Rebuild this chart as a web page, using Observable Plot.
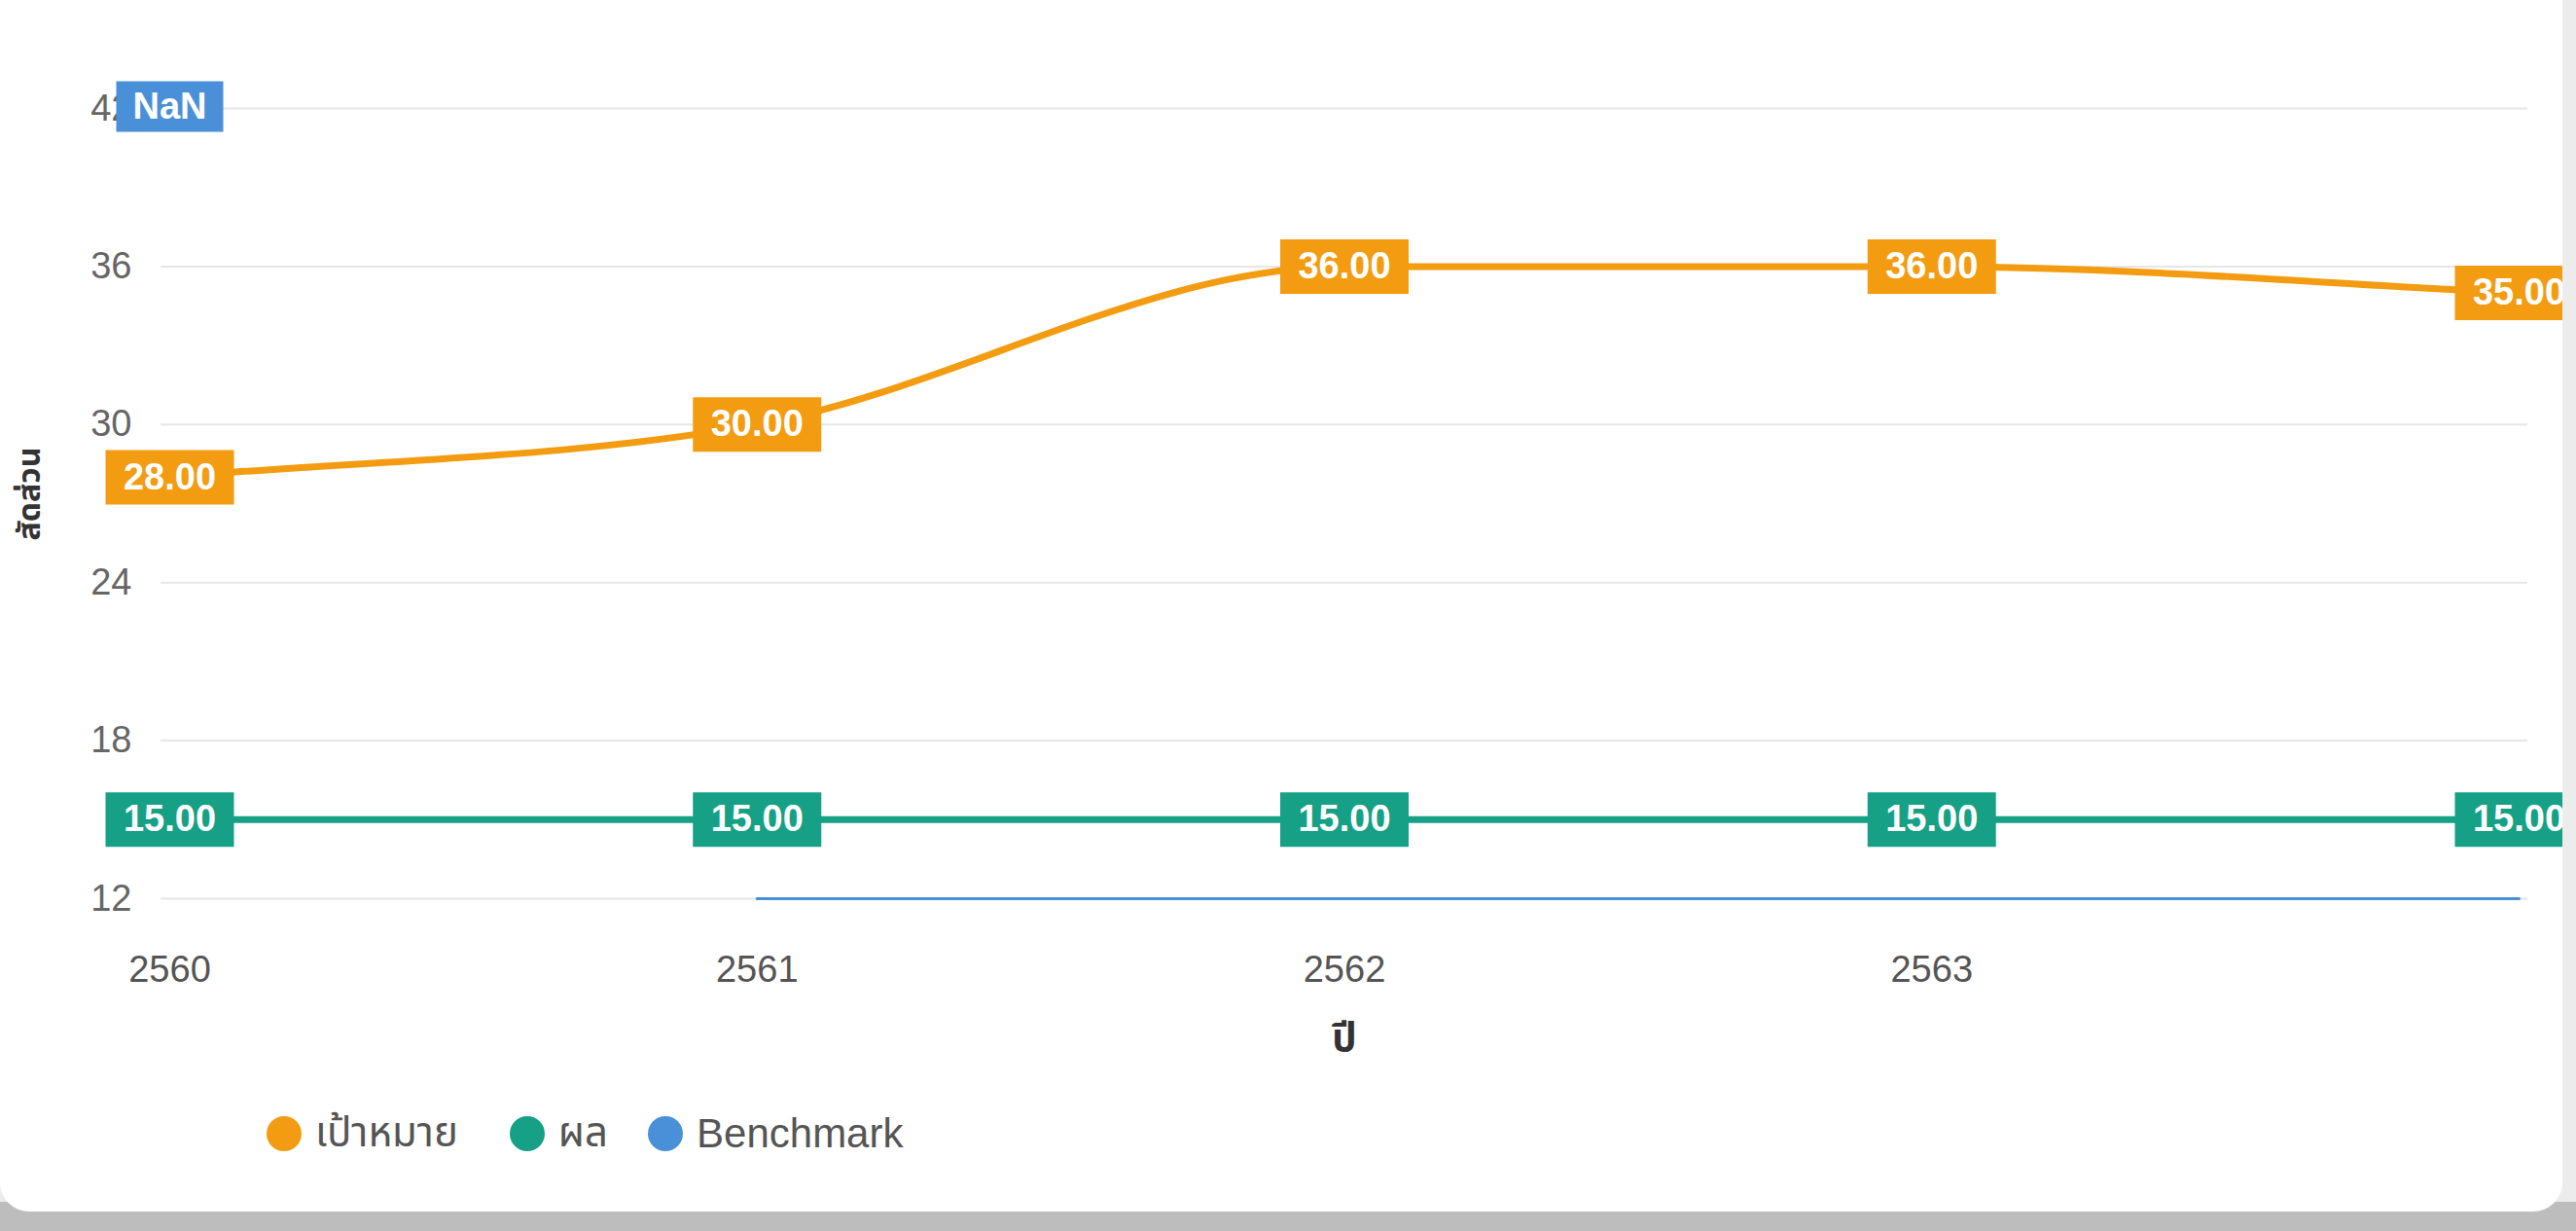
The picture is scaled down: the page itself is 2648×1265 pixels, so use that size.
<!DOCTYPE html>
<html>
<head>
<meta charset="utf-8">
<script src="https://cdn.jsdelivr.net/npm/d3@7"></script>
<script src="https://cdn.jsdelivr.net/npm/@observablehq/plot@0.6"></script>
<style>
  html, body { margin: 0; padding: 0; }
  body { width: 2648px; height: 1265px; overflow: hidden; position: relative; background: #ececec; }
  #bottomband { position: absolute; left: 0; top: 1235px; width: 2648px; height: 30px; background: #bdbdbd; }
  #card { position: absolute; left: 0; top: 0; width: 2634px; height: 1245px; background: #fff;
          border-radius: 0 0 30px 30px; overflow: hidden; }
  #chart svg { display: block; }
  #legend { position: absolute; left: 274px; top: 1133px; display: flex; align-items: center;
            font-family: "Liberation Sans", "Noto Sans Thai", "Noto Sans", "DejaVu Sans", sans-serif;
            font-size: 42px; color: #555; }
  .item { display: flex; align-items: center; }
  .item:nth-child(1) { margin-right: 53px; }
  .item:nth-child(2) { margin-right: 41px; }
  .sw { width: 36px; height: 36px; border-radius: 50%; margin-right: 14px; }
</style>
</head>
<body>
<div id="bottomband"></div>
<div id="card">
  <div id="chart"></div>
  <div id="legend"></div>
</div>
<script>
// ---- data ----
const years = [2560, 2561, 2562, 2563, 2564];
const target = [28, 30, 36, 36, 35];        // เป้าหมาย
const result = [15, 15, 15, 15, 15];        // ผล
const benchmark = [NaN, 12, 12, 12, 12];    // Benchmark
const seriesNames = ["เป้าหมาย", "ผล", "Benchmark"];
const seriesColors = ["#F39C12", "#16A085", "#4A90D9"];
const yTicks = [12, 18, 24, 30, 36, 42];
const xTicks = [2560, 2561, 2562, 2563];
const xTitle = "ปี";
const yTitle = "สัดส่วน";

const FONT = '"Liberation Sans", "Noto Sans Thai", "Noto Sans", "DejaVu Sans", sans-serif';

const rows = [];
[target, result, benchmark].forEach((vals, i) => {
  years.forEach((yr, j) => rows.push({series: seriesNames[i], year: yr, value: vals[j]}));
});
const labelRows = rows.filter(d => d.series !== "Benchmark");
const nanRows = rows.filter(d => d.series === "Benchmark" && isNaN(d.value))
  .map(d => ({...d, pos: d3.max(yTicks)}));

const colorOf = s => seriesColors[seriesNames.indexOf(s)];
const rectSymbol = (w, h) => ({
  draw(ctx) {
    ctx.moveTo(-w / 2, -h / 2); ctx.lineTo(w / 2, -h / 2);
    ctx.lineTo(w / 2, h / 2); ctx.lineTo(-w / 2, h / 2); ctx.closePath();
  }
});

// Monotone cubic curve with secant end tangents (like Chart.js "monotone")
function monotoneSecant(context) {
  let xs = [], ys = [];
  return {
    areaStart() {}, areaEnd() {},
    lineStart() { xs = []; ys = []; },
    point(x, y) { xs.push(+x); ys.push(+y); },
    lineEnd() {
      const n = xs.length;
      if (!n) return;
      context.moveTo(xs[0], ys[0]);
      if (n === 1) return;
      const d = [], m = [];
      for (let i = 0; i < n - 1; i++) d.push((ys[i + 1] - ys[i]) / (xs[i + 1] - xs[i]));
      m[0] = d[0]; m[n - 1] = d[n - 2];
      for (let i = 1; i < n - 1; i++) m[i] = (d[i - 1] * d[i] <= 0) ? 0 : (d[i - 1] + d[i]) / 2;
      for (let i = 0; i < n - 1; i++) {
        if (d[i] === 0) { m[i] = 0; m[i + 1] = 0; continue; }
        const a = m[i] / d[i], b = m[i + 1] / d[i], s = a * a + b * b;
        if (s > 9) { const t = 3 / Math.sqrt(s); m[i] = t * a * d[i]; m[i + 1] = t * b * d[i]; }
      }
      for (let i = 0; i < n - 1; i++) {
        const h = (xs[i + 1] - xs[i]) / 3;
        context.bezierCurveTo(xs[i] + h, ys[i] + m[i] * h, xs[i + 1] - h, ys[i + 1] - m[i + 1] * h, xs[i + 1], ys[i + 1]);
      }
    }
  };
}

const chart = Plot.plot({
  width: 2634,
  height: 1110,
  marginTop: 111,
  marginBottom: 187,
  marginLeft: 165,
  marginRight: 36,
  style: {fontFamily: FONT, background: "transparent", overflow: "hidden"},
  x: {domain: [2560, 2564], insetLeft: 9, insetRight: 9, label: null},
  y: {domain: [12, 42], label: null},
  marks: [
    Plot.ruleY(yTicks, {stroke: "#e6e6e6", strokeWidth: 2}),
    Plot.axisY({ticks: yTicks, tickSize: 0, tickPadding: 30, fontSize: 38, fill: "#666", label: null}),
    Plot.axisX({ticks: xTicks, tickSize: 0, tickPadding: 59, fontSize: 38, fill: "#555",
                tickFormat: d => String(d), label: null}),
    Plot.lineY(rows.filter(d => !isNaN(d.value)), {
      x: "year", y: "value", z: "series", stroke: d => colorOf(d.series),
      strokeWidth: d => d.series === "Benchmark" ? 3 : 7, curve: monotoneSecant
    }),
    Plot.dot(labelRows, {x: "year", y: "value", symbol: rectSymbol(132, 56), r: 10,
      fill: d => colorOf(d.series), stroke: "none"}),
    Plot.text(labelRows, {x: "year", y: "value", text: d => d3.format(".2f")(d.value),
      fill: "white", fontWeight: "bold", fontSize: 38, fontFamily: FONT}),
    Plot.dot(nanRows, {x: "year", y: "pos", dy: -2, symbol: rectSymbol(110, 52), r: 10,
      fill: d => colorOf(d.series), stroke: "none"}),
    Plot.text(nanRows, {x: "year", y: "pos", dy: -2, text: d => String(d.value),
      fill: "white", fontWeight: "bold", fontSize: 38, fontFamily: FONT}),
    Plot.text([xTitle], {frameAnchor: "bottom", dy: 144, text: d => d, fontWeight: "bold",
      fontSize: 40, fill: "#333", lineAnchor: "middle", textAnchor: "middle"}),
    Plot.text([yTitle], {frameAnchor: "left", dx: -135, dy: -10, rotate: -90, text: d => d,
      textAnchor: "middle", lineAnchor: "middle", fontWeight: "bold", fontSize: 32, fill: "#333"})
  ]
});
document.getElementById("chart").append(chart);

const legend = document.getElementById("legend");
seriesNames.forEach((name, i) => {
  const item = document.createElement("div");
  item.className = "item";
  const sw = document.createElement("div");
  sw.className = "sw";
  sw.style.background = seriesColors[i];
  const t = document.createElement("span");
  t.textContent = name;
  item.append(sw, t);
  legend.append(item);
});
</script>
</body>
</html>
